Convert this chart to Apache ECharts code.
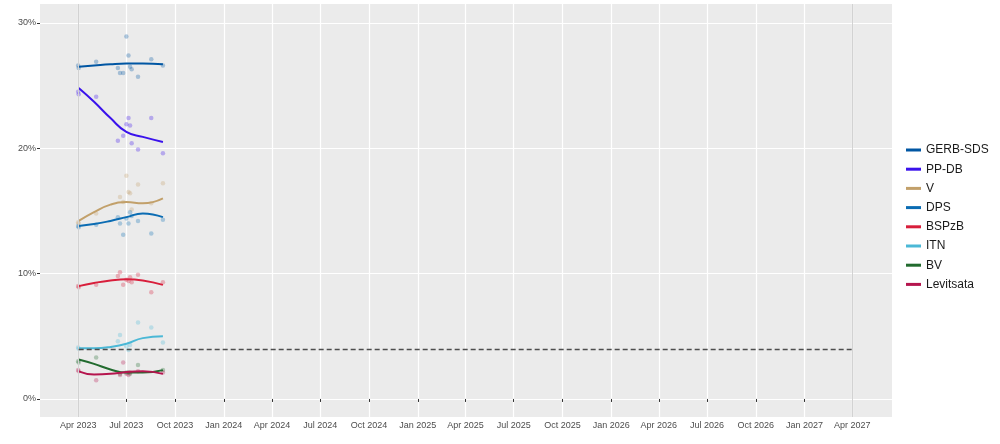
<!DOCTYPE html>
<html>
<head>
<meta charset="utf-8">
<script src="https://cdn.jsdelivr.net/npm/echarts@6/dist/echarts.min.js"></script>
<style>
html,body{margin:0;padding:0;background:#fff;}
#chart{width:1000px;height:444px;}
</style>
</head>
<body>
<div id="chart"></div>
<script>
// ---------- data ----------
const parties = ['GERB-SDS','PP-DB','V','DPS','BSPzB','ITN','BV','Levitsata'];
const colors  = ['#0056A3','#3A12EC','#C2A06A','#0B6CB3','#D81E3B','#4BB8D6','#226B2F','#B5154E'];

const pollDates = ['2023-04-01','2023-04-02','2023-05-05','2023-06-15','2023-06-19','2023-06-25',
                   '2023-07-01','2023-07-05','2023-07-08','2023-07-11','2023-07-23','2023-08-17','2023-09-08'];
const pollGERB = [26.6, 26.4, 26.9, 26.4, 26.0, 26.0, 28.9, 27.4, 26.5, 26.3, 25.7, 27.1, 26.6];
const pollPPDB = [24.5, 24.3, 24.1, 20.6, null, 21.0, 21.9, 22.4, 21.8, 20.4, 19.9, 22.4, 19.6];
const pollV    = [14.1, 14.0, 14.8, null, 16.1, 15.7, 17.8, 16.5, 16.4, 15.1, 17.1, 15.6, 17.2];
const pollDPS  = [13.8, 13.7, 13.9, 14.5, 14.0, 13.1, 14.4, 14.0, 14.9, 14.6, 14.2, 13.2, 14.3];
const pollBSP  = [9.0, 8.9, 9.1, 9.8, 10.1, 9.1, 9.5, 9.4, 9.7, 9.3, 9.9, 8.5, 9.3];
const pollITN  = [4.1, 4.0, null, 4.6, 5.1, null, 4.2, 3.9, 4.3, null, 6.1, 5.7, 4.5];
const pollBV   = [3.0, 2.9, 3.3, null, 2.0, null, 2.1, 2.1, 2.0, null, 2.7, null, 2.3];
const pollLEV  = [2.3, 2.2, 1.5, null, 1.9, 2.9, 2.0, 1.9, 2.1, null, 2.2, null, 2.1];

const trendDates = ['2023-04-02','2023-05-01','2023-06-01','2023-07-01','2023-08-01','2023-09-08'];
const trendGERB = [26.5, 26.6, 26.7, 26.75, 26.75, 26.7];
const trendPPDB = [24.8, 23.7, 22.4, 21.3, 20.9, 20.5];
const trendV    = [14.2, 14.9, 15.5, 15.7, 15.6, 16.0];
const trendDPS  = [13.8, 13.95, 14.2, 14.5, 14.8, 14.5];
const trendBSP  = [9.0, 9.25, 9.45, 9.55, 9.45, 9.1];
const trendITN  = [4.05, 4.05, 4.15, 4.4, 4.85, 5.0];
const trendBV   = [3.15, 2.8, 2.35, 2.1, 2.1, 2.3];
const trendLEV  = [2.2, 1.95, 2.0, 2.15, 2.2, 2.0];

const xTickDates = ['2023-04-01','2023-07-01','2023-10-01','2024-01-01','2024-04-01','2024-07-01','2024-10-01',
                    '2025-01-01','2025-04-01','2025-07-01','2025-10-01','2026-01-01','2026-04-01','2026-07-01',
                    '2026-10-01','2027-01-01','2027-04-01'];
const xTickLabels = ['Apr 2023','Jul 2023','Oct 2023','Jan 2024','Apr 2024','Jul 2024','Oct 2024',
                     'Jan 2025','Apr 2025','Jul 2025','Oct 2025','Jan 2026','Apr 2026','Jul 2026',
                     'Oct 2026','Jan 2027','Apr 2027'];
const yTicks = [0, 10, 20, 30];
const yTickLabels = ['0%','10%','20%','30%'];

const xMinDate = '2023-01-19';
const xMaxDate = '2027-06-15';
const yMin = -1.44, yMax = 31.5;

const threshold = 4;
const thresholdStart = '2023-04-02';
const thresholdEnd = '2027-04-01';
const electionDates = ['2023-04-02','2027-04-01'];

// ---------- build ----------
// dates are turned into day numbers (UTC) for a linear value axis
function t(s){ const p = s.split('-').map(Number); return Date.UTC(p[0], p[1]-1, p[2]) / 86400000; }

const pollArrays  = [pollGERB,pollPPDB,pollV,pollDPS,pollBSP,pollITN,pollBV,pollLEV];
const trendArrays = [trendGERB,trendPPDB,trendV,trendDPS,trendBSP,trendITN,trendBV,trendLEV];
const xTickTimes = xTickDates.map(t);
const FONT = '"Liberation Sans", Arial, sans-serif';

const series = [];
series.push({
  type: 'line', name: '_ref', data: [], silent: true,
  markLine: {
    silent: true, symbol: ['none','none'], animation: false,
    label: {show: false},
    data: electionDates.map(d => ({xAxis: t(d), lineStyle: {color: '#D2D2D2', width: 1, type: 'solid'}}))
      .concat([[
        {coord: [t(thresholdStart), threshold], lineStyle: {color: '#4D4D4D', width: 1.3, type: [5, 3]}},
        {coord: [t(thresholdEnd), threshold]}
      ]])
  }
});
parties.forEach((p, i) => {
  series.push({
    type: 'scatter', name: p, symbolSize: 4.5,
    itemStyle: {color: colors[i], opacity: 0.3},
    data: pollDates.map((d, k) => pollArrays[i][k] == null ? null : [t(d), pollArrays[i][k]]).filter(v => v),
    z: 3, silent: true
  });
});
parties.forEach((p, i) => {
  series.push({
    type: 'line', name: p, smooth: 0.5, showSymbol: false,
    lineStyle: {color: colors[i], width: 2},
    itemStyle: {color: colors[i]},
    data: trendDates.map((d, k) => [t(d), trendArrays[i][k]]),
    z: 4, silent: true
  });
});

const chart = echarts.init(document.getElementById('chart'), null, {renderer: 'canvas'});
chart.setOption({
  animation: false,
  backgroundColor: '#FFFFFF',
  textStyle: {fontFamily: FONT},
  grid: {left: 40, right: 108, top: 4, bottom: 27, show: true, backgroundColor: '#EBEBEB', borderWidth: 0, containLabel: false},
  legend: {
    data: parties.map((p, i) => ({name: p, icon: 'rect', itemStyle: {color: colors[i], opacity: 1}})),
    orient: 'vertical', left: 906, top: 143, padding: 0,
    itemWidth: 15, itemHeight: 3, itemGap: 5.2,
    textStyle: {fontSize: 12, color: '#1A1A1A', fontFamily: FONT, lineHeight: 14},
    selectedMode: false
  },
  xAxis: {
    type: 'value', min: t(xMinDate), max: t(xMaxDate),
    axisLine: {show: false},
    axisTick: {show: true, length: 3, lineStyle: {color: '#333333', width: 1}, customValues: xTickTimes},
    axisLabel: {
      customValues: xTickTimes, fontSize: 9, color: '#4D4D4D', margin: 4, fontFamily: FONT,
      showMinLabel: true, showMaxLabel: true,
      formatter: function(v){ const k = xTickTimes.indexOf(v); return k >= 0 ? xTickLabels[k] : ''; }
    },
    splitLine: {show: true, lineStyle: {color: '#FFFFFF', width: 1.2}}
  },
  yAxis: {
    type: 'value', min: yMin, max: yMax,
    axisLine: {show: false},
    axisTick: {show: true, length: 3, lineStyle: {color: '#333333', width: 1}, customValues: yTicks},
    axisLabel: {
      customValues: yTicks, fontSize: 9, color: '#4D4D4D', margin: 4, fontFamily: FONT,
      formatter: function(v){ const k = yTicks.indexOf(v); return k >= 0 ? yTickLabels[k] : ''; }
    },
    splitLine: {show: true, lineStyle: {color: '#FFFFFF', width: 1.2}}
  },
  series: series
});
</script>
</body>
</html>
